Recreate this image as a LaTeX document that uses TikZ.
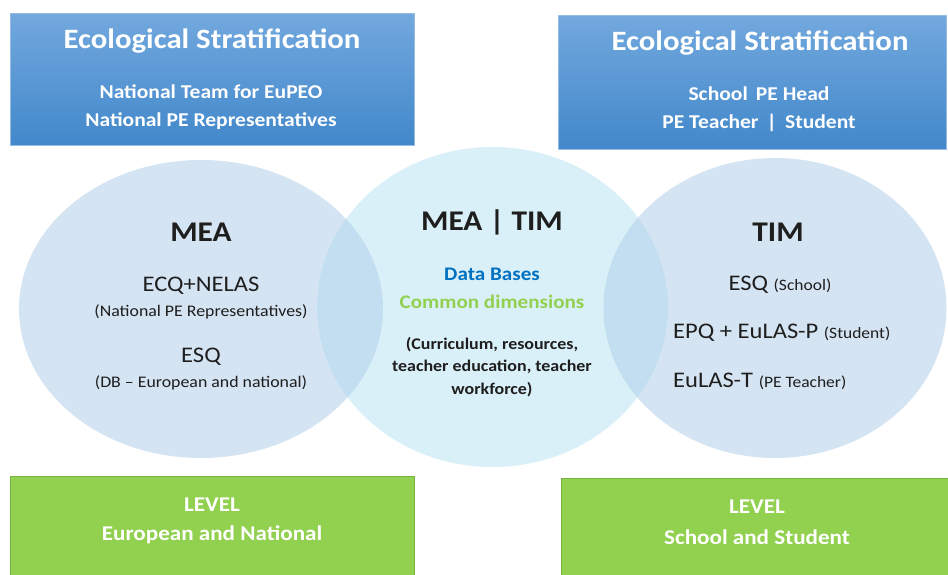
\documentclass[tikz,border=0pt]{standalone}
\usepackage{fontspec}
\setmainfont{Carlito}[FakeStretch=1.1]
\usetikzlibrary{shapes.geometric}
\definecolor{ellA}{RGB}{213,228,242}
\definecolor{ellM}{RGB}{218,240,248}
\definecolor{ellO}{RGB}{194,222,240}
\definecolor{btop}{RGB}{114,168,222}
\definecolor{bbot}{RGB}{66,136,202}
\definecolor{bline}{RGB}{150,188,228}
\definecolor{gfill}{RGB}{146,208,80}
\definecolor{gline}{RGB}{118,180,64}
\definecolor{dtext}{RGB}{30,30,30}
\definecolor{dbblue}{RGB}{0,112,192}
\definecolor{dbgreen}{RGB}{146,208,80}
\tikzset{
  bluebox/.style={draw=bline, line width=1pt, top color=btop, bottom color=bbot, inner sep=0pt},
  greenbox/.style={draw=gline, line width=1pt, fill=gfill, inner sep=0pt},
  ell/.style={ellipse, inner sep=0pt, draw=none},
  dt/.style={text=dtext, inner sep=0pt},
  wtitle/.style={text=white, inner sep=0pt, font=\fontsize{28}{32}\bfseries\selectfont},
  wsub/.style={text=white, inner sep=0pt, font=\fontsize{19.6}{22}\bfseries\selectfont},
  gtext/.style={text=white, inner sep=0pt, font=\fontsize{21}{24}\bfseries\selectfont},
  head/.style={dt, font=\fontsize{28.5}{32}\bfseries\selectfont},
  big/.style={dt, font=\fontsize{22.3}{25}\selectfont},
  small/.style={dt, font=\fontsize{16.2}{18}\selectfont},
}
\newcommand{\paren}[1]{{\fontsize{15.9}{18}\selectfont #1}}
\begin{document}
\begin{tikzpicture}[x=1pt,y=-1pt]
\useasboundingbox (0,0) rectangle (948,574);
% ellipses
\node[ell, fill=ellA, minimum width=364pt, minimum height=298pt] (mea) at (201,309) {};
\node[ell, fill=ellA, minimum width=343pt, minimum height=300pt] (tim) at (775,308) {};
\node[ell, fill=ellM, minimum width=351pt, minimum height=320pt] (mid) at (492.5,307) {};
\begin{scope}
\clip (201,309) ellipse [x radius=182pt, y radius=149pt];
\fill[ellO] (492.5,307) ellipse [x radius=175.5pt, y radius=160pt];
\end{scope}
\begin{scope}
\clip (775,308) ellipse [x radius=171.5pt, y radius=150pt];
\fill[ellO] (492.5,307) ellipse [x radius=175.5pt, y radius=160pt];
\end{scope}
% boxes
\node[bluebox, minimum width=404pt, minimum height=132pt] (tl) at (212,79) {};
\node[bluebox, minimum width=388pt, minimum height=134pt] (tr) at (752,82) {};
\node[greenbox, minimum width=404pt, minimum height=100pt] (bl) at (212,526) {};
\node[greenbox, minimum width=387pt, minimum height=98pt] (br) at (754.5,527) {};
% top-left texts
\node[wtitle] (tlt) at (212,41) {Ecological Stratification};
\node[wsub] (tl1) at (211,92) {National Team for EuPEO};
\node[wsub] (tl2) at (211,121) {National PE Representatives};
% top-right texts
\node[wtitle] (trt) at (760,43) {Ecological Stratification};
\node[wsub] (tr1) at (759,94) {School\, PE Head};
\node[wsub] (tr2) at (759,123) {PE Teacher \,|\, Student};
% MEA
\node[head] (meat) at (201,232) {MEA};
\node[big] (m1) at (201,286) {ECQ+NELAS};
\node[small] (m2) at (201,312) {(National PE Representatives)};
\node[big] (m3) at (201,357) {ESQ};
\node[small] (m4) at (201,383) {(DB -- European and national)};
% middle
\node[head] (midt) at (492,222) {MEA | TIM};
\node[inner sep=0pt, text=dbblue, font=\fontsize{19.2}{22}\bfseries\selectfont] (db) at (492,274) {Data Bases};
\node[inner sep=0pt, text=dbgreen, font=\fontsize{19.2}{22}\bfseries\selectfont] (cd) at (492,302) {Common dimensions};
\node[dt, align=center, font=\fontsize{16.3}{22.5}\bfseries\selectfont] (cur) at (492,367) {(Curriculum, resources,\\teacher education, teacher\\workforce)};
% TIM
\node[head] (timt) at (778,232) {TIM};
\node[big] (t1) at (780,285) {ESQ \paren{(School)}};
\node[big, anchor=west] (t2) at (673,333) {EPQ + EuLAS-P \paren{(Student)}};
\node[big, anchor=west] (t3) at (673,381) {EuLAS-T \paren{(PE Teacher)}};
% green texts
\node[gtext] (bl1) at (212,505) {LEVEL};
\node[gtext] (bl2) at (212,535) {European and National};
\node[gtext] (br1) at (757,507) {LEVEL};
\node[gtext] (br2) at (757,537) {School and Student};
\end{tikzpicture}
\end{document}
